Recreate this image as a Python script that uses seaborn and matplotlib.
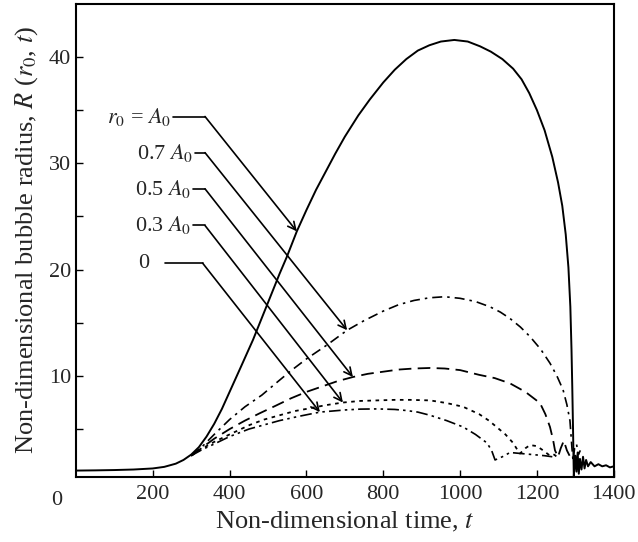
import matplotlib
matplotlib.use("Agg")
import matplotlib.pyplot as plt
import numpy as np
import seaborn as sns

# Bubble radius histories, one per initial position r0
t_a0 = [0, 50, 100, 150, 200, 230, 260, 280, 300, 320, 340, 360, 380, 400,
        430, 461, 500, 530, 549, 575, 600, 625, 650, 675, 700, 735, 765, 800,
        830, 860, 890, 920, 950, 985, 1020, 1052, 1080, 1110, 1138, 1160,
        1180, 1200, 1220, 1240, 1255, 1266, 1275, 1282, 1287, 1290, 1292,
        1294, 1296, 1300, 1303, 1306, 1309, 1312, 1316, 1320, 1324, 1328,
        1333, 1340, 1350, 1360, 1370, 1380, 1390, 1400]
r_a0 = [1.1, 1.12, 1.15, 1.2, 1.3, 1.45, 1.75, 2.1, 2.6, 3.3, 4.3, 5.5, 6.9,
        8.5, 10.9, 13.4, 16.9, 19.6, 21.2, 23.6, 25.6, 27.5, 29.2, 30.9,
        32.5, 34.5, 36.0, 37.6, 38.8, 39.8, 40.6, 41.1, 41.45, 41.6, 41.45,
        41.0, 40.5, 39.8, 38.9, 37.9, 36.6, 35.0, 33.1, 30.6, 28.2, 26.0,
        23.3, 20.2, 16.5, 12.5, 9.0, 5.0, 0.6, 2.5, 1.0, 2.8, 0.8, 2.2, 1.2,
        2.4, 1.3, 2.1, 1.5, 1.9, 1.5, 1.7, 1.5, 1.6, 1.4, 1.5]

t_07 = [300, 330, 360, 400, 440, 484, 520, 560, 600, 653, 706, 750, 800,
        840, 880, 920, 960, 1000, 1040, 1078, 1105, 1130, 1157, 1182, 1210,
        1234, 1252, 1268, 1278, 1286, 1291, 1294, 1298, 1303, 1308, 1313]
r_07 = [2.5, 3.4, 4.5, 5.9, 7.1, 8.2, 9.3, 10.5, 11.6, 12.9, 14.3, 15.2,
        16.1, 16.7, 17.1, 17.35, 17.45, 17.3, 17.0, 16.5, 16.0, 15.4, 14.6,
        13.7, 12.5, 11.2, 10.0, 8.7, 7.3, 5.8, 3.3, 2.0, 3.2, 3.6, 2.6, 3.0]

t_05 = [300, 330, 360, 400, 440, 479, 520, 560, 600, 640, 680, 721, 760,
        800, 840, 880, 922, 960, 1000, 1050, 1090, 1130, 1170, 1208, 1222,
        1234, 1242, 1247, 1255, 1262, 1270, 1278, 1285]
r_05 = [2.5, 3.3, 4.1, 5.0, 5.8, 6.5, 7.2, 7.9, 8.5, 9.0, 9.5, 9.9, 10.2,
        10.4, 10.6, 10.7, 10.75, 10.7, 10.55, 10.1, 9.8, 9.3, 8.5, 7.45,
        6.4, 5.2, 4.0, 3.0, 2.4, 3.2, 3.9, 3.0, 2.5]

t_03 = [300, 330, 360, 400, 453, 490, 530, 570, 600, 650, 695, 740, 784,
        830, 870, 922, 965, 1008, 1050, 1075, 1095, 1118, 1138, 1150, 1156,
        1170, 1182, 1200, 1216, 1234, 1245, 1255]
r_03 = [2.5, 3.2, 3.8, 4.5, 5.4, 5.9, 6.3, 6.7, 6.9, 7.25, 7.5, 7.65, 7.7,
        7.75, 7.75, 7.7, 7.45, 7.1, 6.4, 5.8, 5.2, 4.5, 3.7, 3.0, 2.7, 3.2,
        3.5, 3.4, 3.0, 2.5, 2.6, 2.3]

t_00 = [300, 330, 360, 400, 450, 490, 530, 580, 635, 700, 740, 784, 830,
        860, 890, 922, 965, 1008, 1040, 1070, 1082, 1091, 1110, 1130, 1160,
        1190, 1220, 1240]
r_00 = [2.5, 3.1, 3.6, 4.3, 5.0, 5.4, 5.8, 6.2, 6.6, 6.8, 6.88, 6.9, 6.85,
        6.75, 6.6, 6.3, 5.8, 5.2, 4.5, 3.7, 3.0, 2.1, 2.4, 2.8, 2.7, 2.6,
        2.5, 2.4]

labels = ["$r_0$ = $A_0$", "0.7 $A_0$", "0.5 $A_0$", "0.3 $A_0$", "0"]
# time at which each label's arrow hits its curve
arrow_t = [575, 706, 721, 695, 635]

x_ticks = [200, 400, 600, 800, 1000, 1200, 1400]
y_ticks = [10, 20, 30, 40]

sns.set_style("ticks")
plt.rcParams["font.family"] = ["Liberation Serif", "DejaVu Serif"]
plt.rcParams["mathtext.fontset"] = "stix"
plt.rcParams["xtick.direction"] = "in"
plt.rcParams["ytick.direction"] = "in"

fig = plt.figure(figsize=(6.38, 5.42), dpi=100)
ax = fig.add_axes([0.119, 0.120, 0.843, 0.873])

series = [
    (t_a0, r_a0, "-", 1.4),
    (t_07, r_07, (0, (6, 3, 1.5, 3)), 1.2),
    (t_05, r_05, (0, (7, 3.5)), 1.3),
    (t_03, r_03, (0, (2, 2.5)), 1.3),
    (t_00, r_00, (0, (7, 2.5, 1.5, 2.5, 1.5, 2.5)), 1.2),
]
for t, r, ls, lw in series:
    sns.lineplot(x=t, y=r, ax=ax, color="black", linestyle=ls, linewidth=lw,
                 sort=False, estimator=None)

ax.set_xlim(0, 1400)
ax.set_ylim(0.5, 45)
ax.set_xticks(x_ticks)
ax.set_xticklabels([str(v) for v in x_ticks])
ax.set_yticks(y_ticks)
ax.set_yticks([5, 15, 25, 35], minor=True)
ax.tick_params(axis="both", which="both", labelsize=16, length=5,
               width=1.0, color="black", top=False, right=False)
ax.tick_params(axis="x", pad=6)
ax.text(-0.035, -0.03, "0", transform=ax.transAxes, fontsize=16,
        ha="center", va="top")
for side in ["left", "right", "top", "bottom"]:
    ax.spines[side].set_visible(True)
    ax.spines[side].set_color("black")
    ax.spines[side].set_linewidth(1.5)

ax.set_xlabel("Non-dimensional time, $t$", fontsize=19, labelpad=4)
ax.set_ylabel("Non-dimensional bubble radius, $R$ ($r_0$, $t$)",
              fontsize=19, labelpad=6)

# Labels with a short leader line, then an arrow down to the curve
leader_y = [34.4, 31.0, 27.6, 24.15, 20.6]
leader_x0 = [252, 310, 304, 304, 232]
leader_x1 = [336, 336, 336, 336, 330]
curves = [(t_a0, r_a0), (t_07, r_07), (t_05, r_05), (t_03, r_03),
          (t_00, r_00)]
for i, lab in enumerate(labels):
    y = leader_y[i]
    ax.plot([leader_x0[i], leader_x1[i]], [y, y], color="black", lw=1.2)
    if lab == "0":
        ax.text(161, y, lab, fontsize=16, ha="left", va="center")
    else:
        ax.text(leader_x0[i] - 4, y, lab, fontsize=16, ha="right",
                va="center")
    ct, cr = curves[i]
    tip = (arrow_t[i], float(np.interp(arrow_t[i], ct, cr)))
    ax.annotate("", xy=tip, xytext=(leader_x1[i], y),
                arrowprops=dict(arrowstyle="->", color="black", lw=1.2,
                                shrinkA=0, shrinkB=0, mutation_scale=14))

fig.savefig("out.png", dpi=100)
